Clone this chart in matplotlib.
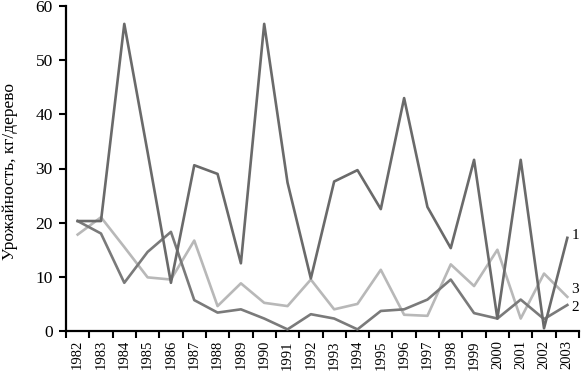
import matplotlib
matplotlib.use("Agg")
import matplotlib.pyplot as plt
import numpy as np

years = list(range(1982, 2004))
series1 = [20.3, 20.3, 56.7, 33.0, 8.9, 30.6, 29.0, 12.5, 56.7, 27.4, 9.7,
           27.6, 29.7, 22.5, 43.0, 22.9, 15.3, 31.6, 2.3, 31.6, 0.5, 17.2]
series2 = [20.3, 18.0, 8.9, 14.6, 18.3, 5.7, 3.4, 4.0, 2.3, 0.3, 3.1,
           2.3, 0.3, 3.7, 4.0, 5.8, 9.5, 3.3, 2.3, 5.8, 2.2, 4.8]
series3 = [17.8, 21.0, 15.5, 9.9, 9.5, 16.7, 4.6, 8.8, 5.2, 4.6, 9.5,
           4.0, 5.0, 11.3, 3.0, 2.8, 12.3, 8.3, 15.0, 2.3, 10.6, 6.3]
series_labels = ["1", "2", "3"]
ylabel = "Урожайность, кг/дерево"

plt.rcParams['font.family'] = ['Liberation Serif', 'DejaVu Serif']

fig = plt.figure(figsize=(5.81, 3.71), dpi=100)
ax = fig.add_axes([66/581, 1-331/371, (579-66)/581, (331-6)/371])

x = np.arange(len(years)) + 0.5
ax.plot(x, series3, color='#b8b8b8', lw=1.9, zorder=2)
ax.plot(x, series2, color='#7a7a7a', lw=1.9, zorder=3)
ax.plot(x, series1, color='#6a6a6a', lw=1.9, zorder=4)

ax.set_xlim(0, len(years))
ax.set_ylim(0, 60)

for s in ['top', 'right']:
    ax.spines[s].set_visible(False)
for s in ['left', 'bottom']:
    ax.spines[s].set_linewidth(1.6)
    ax.spines[s].set_color('black')

ax.set_yticks(range(0, 61, 10))
ax.tick_params(axis='y', direction='out', length=5, width=1.5, labelsize=12.5, pad=4.5)
ax.set_xticks(np.arange(0, len(years) + 1))
ax.set_xticklabels([])
ax.set_xticks(x, minor=True)
ax.set_xticklabels([str(y) for y in years], minor=True, rotation=90, fontsize=10.5)
ax.tick_params(axis='x', which='major', direction='out', length=5, width=1.5)
ax.tick_params(axis='x', which='minor', length=0, pad=6.5)

ax.set_ylabel(ylabel, fontsize=12.5)
ax.yaxis.set_label_coords(-0.093, 0.49)

# series labels at right end
last = [series1[-1], series2[-1], series3[-1]]
dy = [2.0, -1.5, 5.0]
for lab, val, d in zip(series_labels, last, dy):
    ax.annotate(lab, xy=(x[-1], val), xytext=(3, d), textcoords='offset points',
                fontsize=11, va='center', ha='left', annotation_clip=False)

fig.savefig("out.png", dpi=100)
